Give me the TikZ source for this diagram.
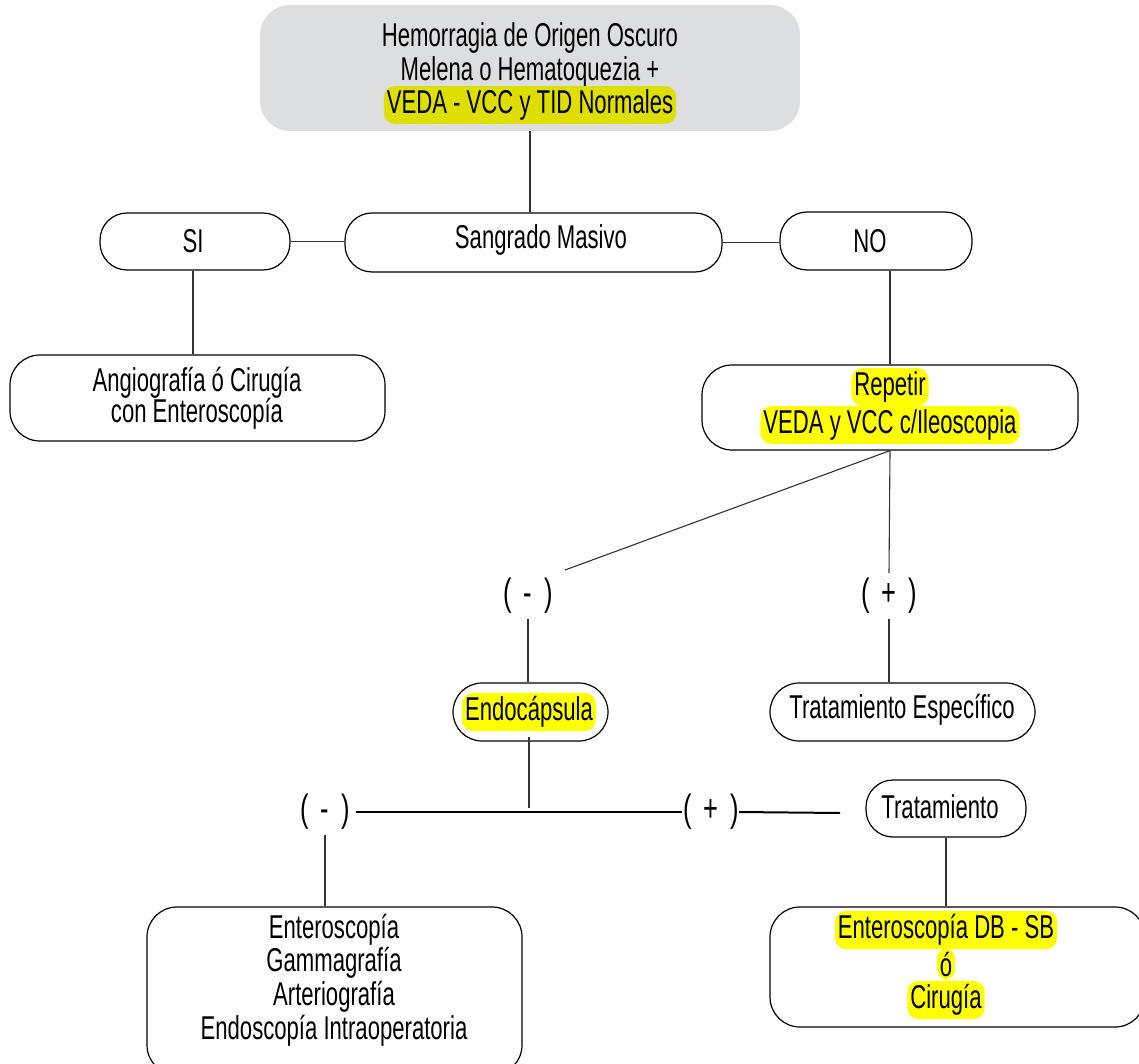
\documentclass[tikz,border=0pt]{standalone}
\usepackage{fontspec}
\setmainfont{Liberation Sans}[FakeStretch=0.67]
\definecolor{topgray}{RGB}{221,222,223}
\definecolor{hlolive}{RGB}{222,222,0}
\definecolor{hlyellow}{RGB}{255,255,0}
\newcommand{\lblgap}{\hspace{12pt}}
\begin{document}
\begin{tikzpicture}[x=1pt,y=-1pt,
  txt/.style={font=\fontsize{33}{37}\selectfont, inner sep=0pt, text=black},
  hl/.style={txt, fill=hlyellow, rounded corners=11pt, inner xsep=3pt, inner ysep=3.5pt},
  hltop/.style={hl, fill=hlolive},
  lbl/.style={font=\fontsize{38}{42}\selectfont, inner sep=0pt, minimum height=46pt},
  bx/.style={draw=black, line width=1.2pt, rounded corners=#1, inner sep=0pt},
  bx/.default=27pt,
  conn/.style={draw=black!80, line width=1.1pt},
  thick conn/.style={draw=black, line width=2pt}
]
\useasboundingbox (0,0) rectangle (1139,1064);

% boxes
\node[fill=topgray, rounded corners=30pt, minimum width=540pt, minimum height=126pt] (top) at (530,68) {};
\node[bx, minimum width=190pt, minimum height=57pt] (si) at (195,241.5) {};
\node[bx, minimum width=377pt, minimum height=59pt] (sm) at (533.5,242.5) {};
\node[bx, minimum width=192pt, minimum height=58pt] (no) at (876,241) {};
\node[bx=30pt, minimum width=375pt, minimum height=86pt] (ang) at (197.5,398) {};
\node[bx=30pt, minimum width=376pt, minimum height=85pt] (rep) at (890,407.5) {};
\node[bx=29pt, minimum width=155pt, minimum height=58pt] (endo) at (530.5,712) {};
\node[bx=29pt, minimum width=265pt, minimum height=58pt] (te) at (902.5,712) {};
\node[bx=27pt, minimum width=160pt, minimum height=57pt] (trat) at (946,808.5) {};
\node[bx=30pt, minimum width=375pt, minimum height=168pt] (ent) at (334.5,991) {};
\node[bx=30pt, minimum width=375pt, minimum height=120pt] (cir) at (957.5,967) {};

% texts
\node[txt] (t1) at (530,38) {Hemorragia de Origen Oscuro};
\node[txt] (t2) at (530,72) {Melena o Hematoquezia +};
\node[hltop] (t3) at (530,105) {VEDA - VCC y TID Normales};
\node[txt] (tsi) at (193,241) {SI};
\node[txt] (tsm) at (541,240) {Sangrado Masivo};
\node[txt] (tno) at (870,241) {NO};
\node[txt] (ta1) at (197,383) {Angiografía ó Cirugía};
\node[txt] (ta2) at (197,414) {con Enteroscopía};
\node[hl] (tr1) at (890,387) {Repetir};
\node[hl] (tr2) at (890,425) {VEDA y VCC c/Ileoscopia};
\node[lbl] (m1) at (528,596) {(\lblgap-\lblgap)};
\node[lbl] (p1) at (889,596) {(\lblgap+\lblgap)};
\node[hl] (tendo) at (529,712) {Endocápsula};
\node[txt] (tte) at (902,710) {Tratamiento Específico};
\node[lbl] (m2) at (325,812) {(\lblgap-\lblgap)};
\node[lbl] (p2) at (711,812) {(\lblgap+\lblgap)};
\node[txt] (ttrat) at (940,807) {Tratamiento};
\node[txt] (e1) at (334,930) {Enteroscopía};
\node[txt] (e2) at (334,963) {Gammagrafía};
\node[txt] (e3) at (334,997) {Arteriografía};
\node[txt] (e4) at (334,1031) {Endoscopía Intraoperatoria};
\node[hl] (c1) at (946,930) {Enteroscopía DB - SB};
\node[hl] (c2) at (946,964) {ó};
\node[hl] (c3) at (946,1000) {Cirugía};

% coordinates for free ends
\coordinate (m1end) at (565,570);
\coordinate (endoend) at (529,808);
\coordinate (p2end) at (840,813);

% connectors
\draw[conn] (top.south) -- (top.south |- sm.north);
\draw[conn] (si.east) -- (si.east -| sm.west);
\draw[conn] (sm.east) -- (sm.east -| no.west);
\draw[conn] (tsi.south |- si.south) -- (tsi.south |- ang.north);
\draw[conn] (rep.north |- no.south) -- (rep.north);
\draw[conn] (rep.south) -- (m1end);
\draw[conn] (rep.south) -- (p1.north);
\draw[conn] (m1.south) -- (m1.south |- endo.north);
\draw[conn] (p1.south) -- (p1.south |- te.north);
\draw[conn] ([yshift=5pt]endo.south -| endoend) -- (endoend);
\draw[thick conn] ([xshift=6pt]m2.east) -- ([xshift=-1pt]p2.west);
\draw[thick conn] (p2.east) -- (p2end);
\draw[conn] (m2.south) -- (m2.south |- ent.north);
\draw[conn] (trat.south) -- (trat.south |- cir.north);
\end{tikzpicture}
\end{document}
